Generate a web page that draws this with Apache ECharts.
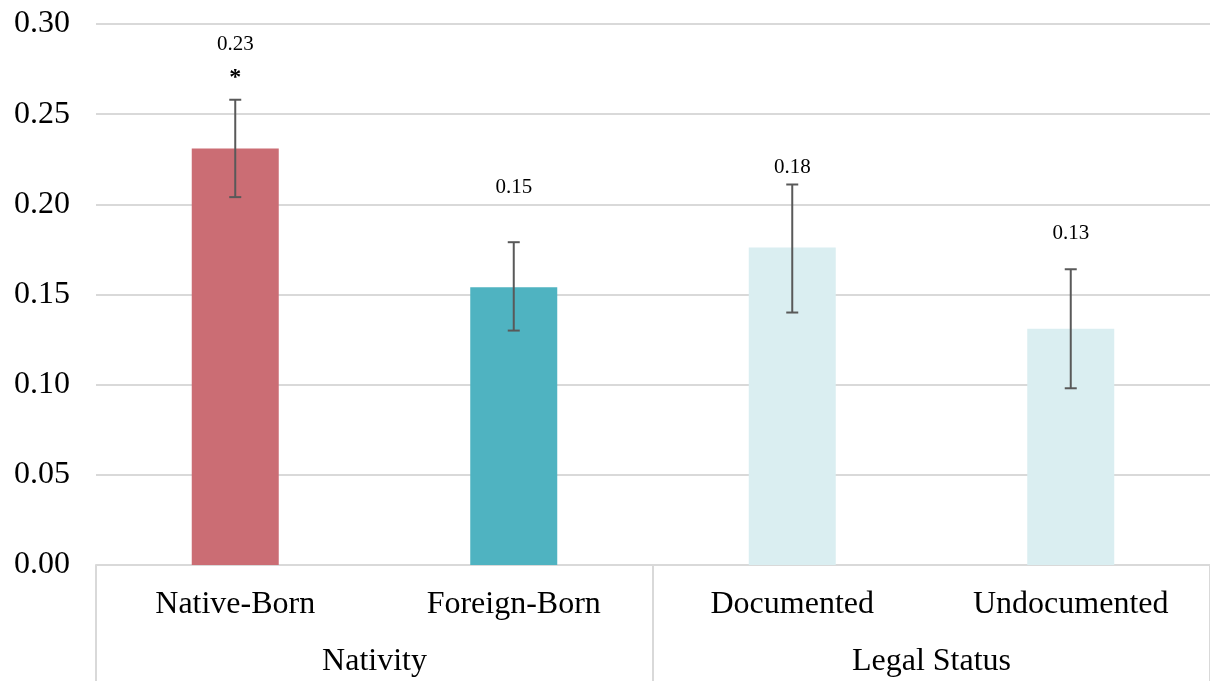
<!DOCTYPE html>
<html>
<head>
<meta charset="utf-8">
<script src="https://cdn.jsdelivr.net/npm/echarts@6/dist/echarts.min.js"></script>
<style>
  html, body { margin: 0; padding: 0; background: #fff; }
  #chart { width: 1210px; height: 681px; }
</style>
</head>
<body>
<div id="chart"></div>
<script>
// data
var categories = ['Native-Born', 'Foreign-Born', 'Documented', 'Undocumented']
var groups = ['Nativity', 'Legal Status']
var values = [0.231, 0.154, 0.176, 0.131]
var errLow = [0.204, 0.130, 0.140, 0.098]
var errHigh = [0.258, 0.179, 0.211, 0.164]
var significance = ['*', '', '', '']
var yTicks = [0, 0.05, 0.10, 0.15, 0.20, 0.25, 0.30]

var barColors = ['#CB6D74', '#4FB3C1', '#DAEEF1', '#DAEEF1']
// pixel gap between error bar top and its value label (hand placed in the original)
var labelGap = [55, 55, 17, 36]
var font = "'Liberation Serif', 'Times New Roman', serif"

var chart = echarts.init(document.getElementById('chart'))

var option = {
  backgroundColor: '#fff',
  animation: false,
  grid: { left: 96, right: 0, top: 24, bottom: 116, containLabel: false },
  xAxis: [
    {
      type: 'category',
      data: categories,
      axisLine: { show: true, lineStyle: { color: '#d9d9d9', width: 2 } },
      axisTick: { show: false },
      axisLabel: { color: '#000', fontSize: 32, fontFamily: font, margin: 24 }
    },
    {
      type: 'category',
      data: groups,
      position: 'bottom',
      axisLine: { show: false },
      axisTick: { show: true, length: 116, lineStyle: { color: '#d9d9d9', width: 2 } },
      axisLabel: { color: '#000', fontSize: 32, fontFamily: font, margin: 81 }
    }
  ],
  yAxis: {
    type: 'value',
    min: yTicks[0],
    max: yTicks[yTicks.length - 1],
    interval: 0.05,
    axisLine: { show: false },
    axisTick: { show: false },
    axisLabel: {
      color: '#000',
      fontSize: 32,
      fontFamily: font,
      margin: 26,
      formatter: function (v) { return v.toFixed(2) }
    },
    splitLine: { show: true, lineStyle: { color: '#d9d9d9', width: 2 } }
  },
  series: [
    {
      type: 'bar',
      xAxisIndex: 0,
      barWidth: 87,
      data: values.map(function (v, i) {
        return { value: v, itemStyle: { color: barColors[i] } }
      })
    },
    {
      type: 'custom',
      xAxisIndex: 0,
      z: 5,
      data: categories.map(function (c, i) { return [i, errLow[i], errHigh[i]] }),
      renderItem: function (params, api) {
        var i = api.value(0)
        var lo = api.coord([i, api.value(1)])
        var hi = api.coord([i, api.value(2)])
        var x = hi[0]
        var cap = 6
        var st = { stroke: '#595959', lineWidth: 2 }
        var kids = [
          { type: 'line', shape: { x1: x, y1: hi[1], x2: x, y2: lo[1] }, style: st },
          { type: 'line', shape: { x1: x - cap, y1: hi[1], x2: x + cap, y2: hi[1] }, style: st },
          { type: 'line', shape: { x1: x - cap, y1: lo[1], x2: x + cap, y2: lo[1] }, style: st },
          {
            type: 'text',
            style: {
              x: x, y: hi[1] - labelGap[i],
              text: values[i].toFixed(2),
              align: 'center', verticalAlign: 'middle',
              fill: '#000', font: '21px ' + font
            }
          }
        ]
        if (significance[i]) {
          kids.push({
            type: 'text',
            style: {
              x: x, y: hi[1] - 22,
              text: significance[i],
              align: 'center', verticalAlign: 'middle',
              fill: '#000', font: 'bold 24px ' + font
            }
          })
        }
        return { type: 'group', children: kids }
      }
    }
  ]
}

chart.setOption(option)
</script>
</body>
</html>
